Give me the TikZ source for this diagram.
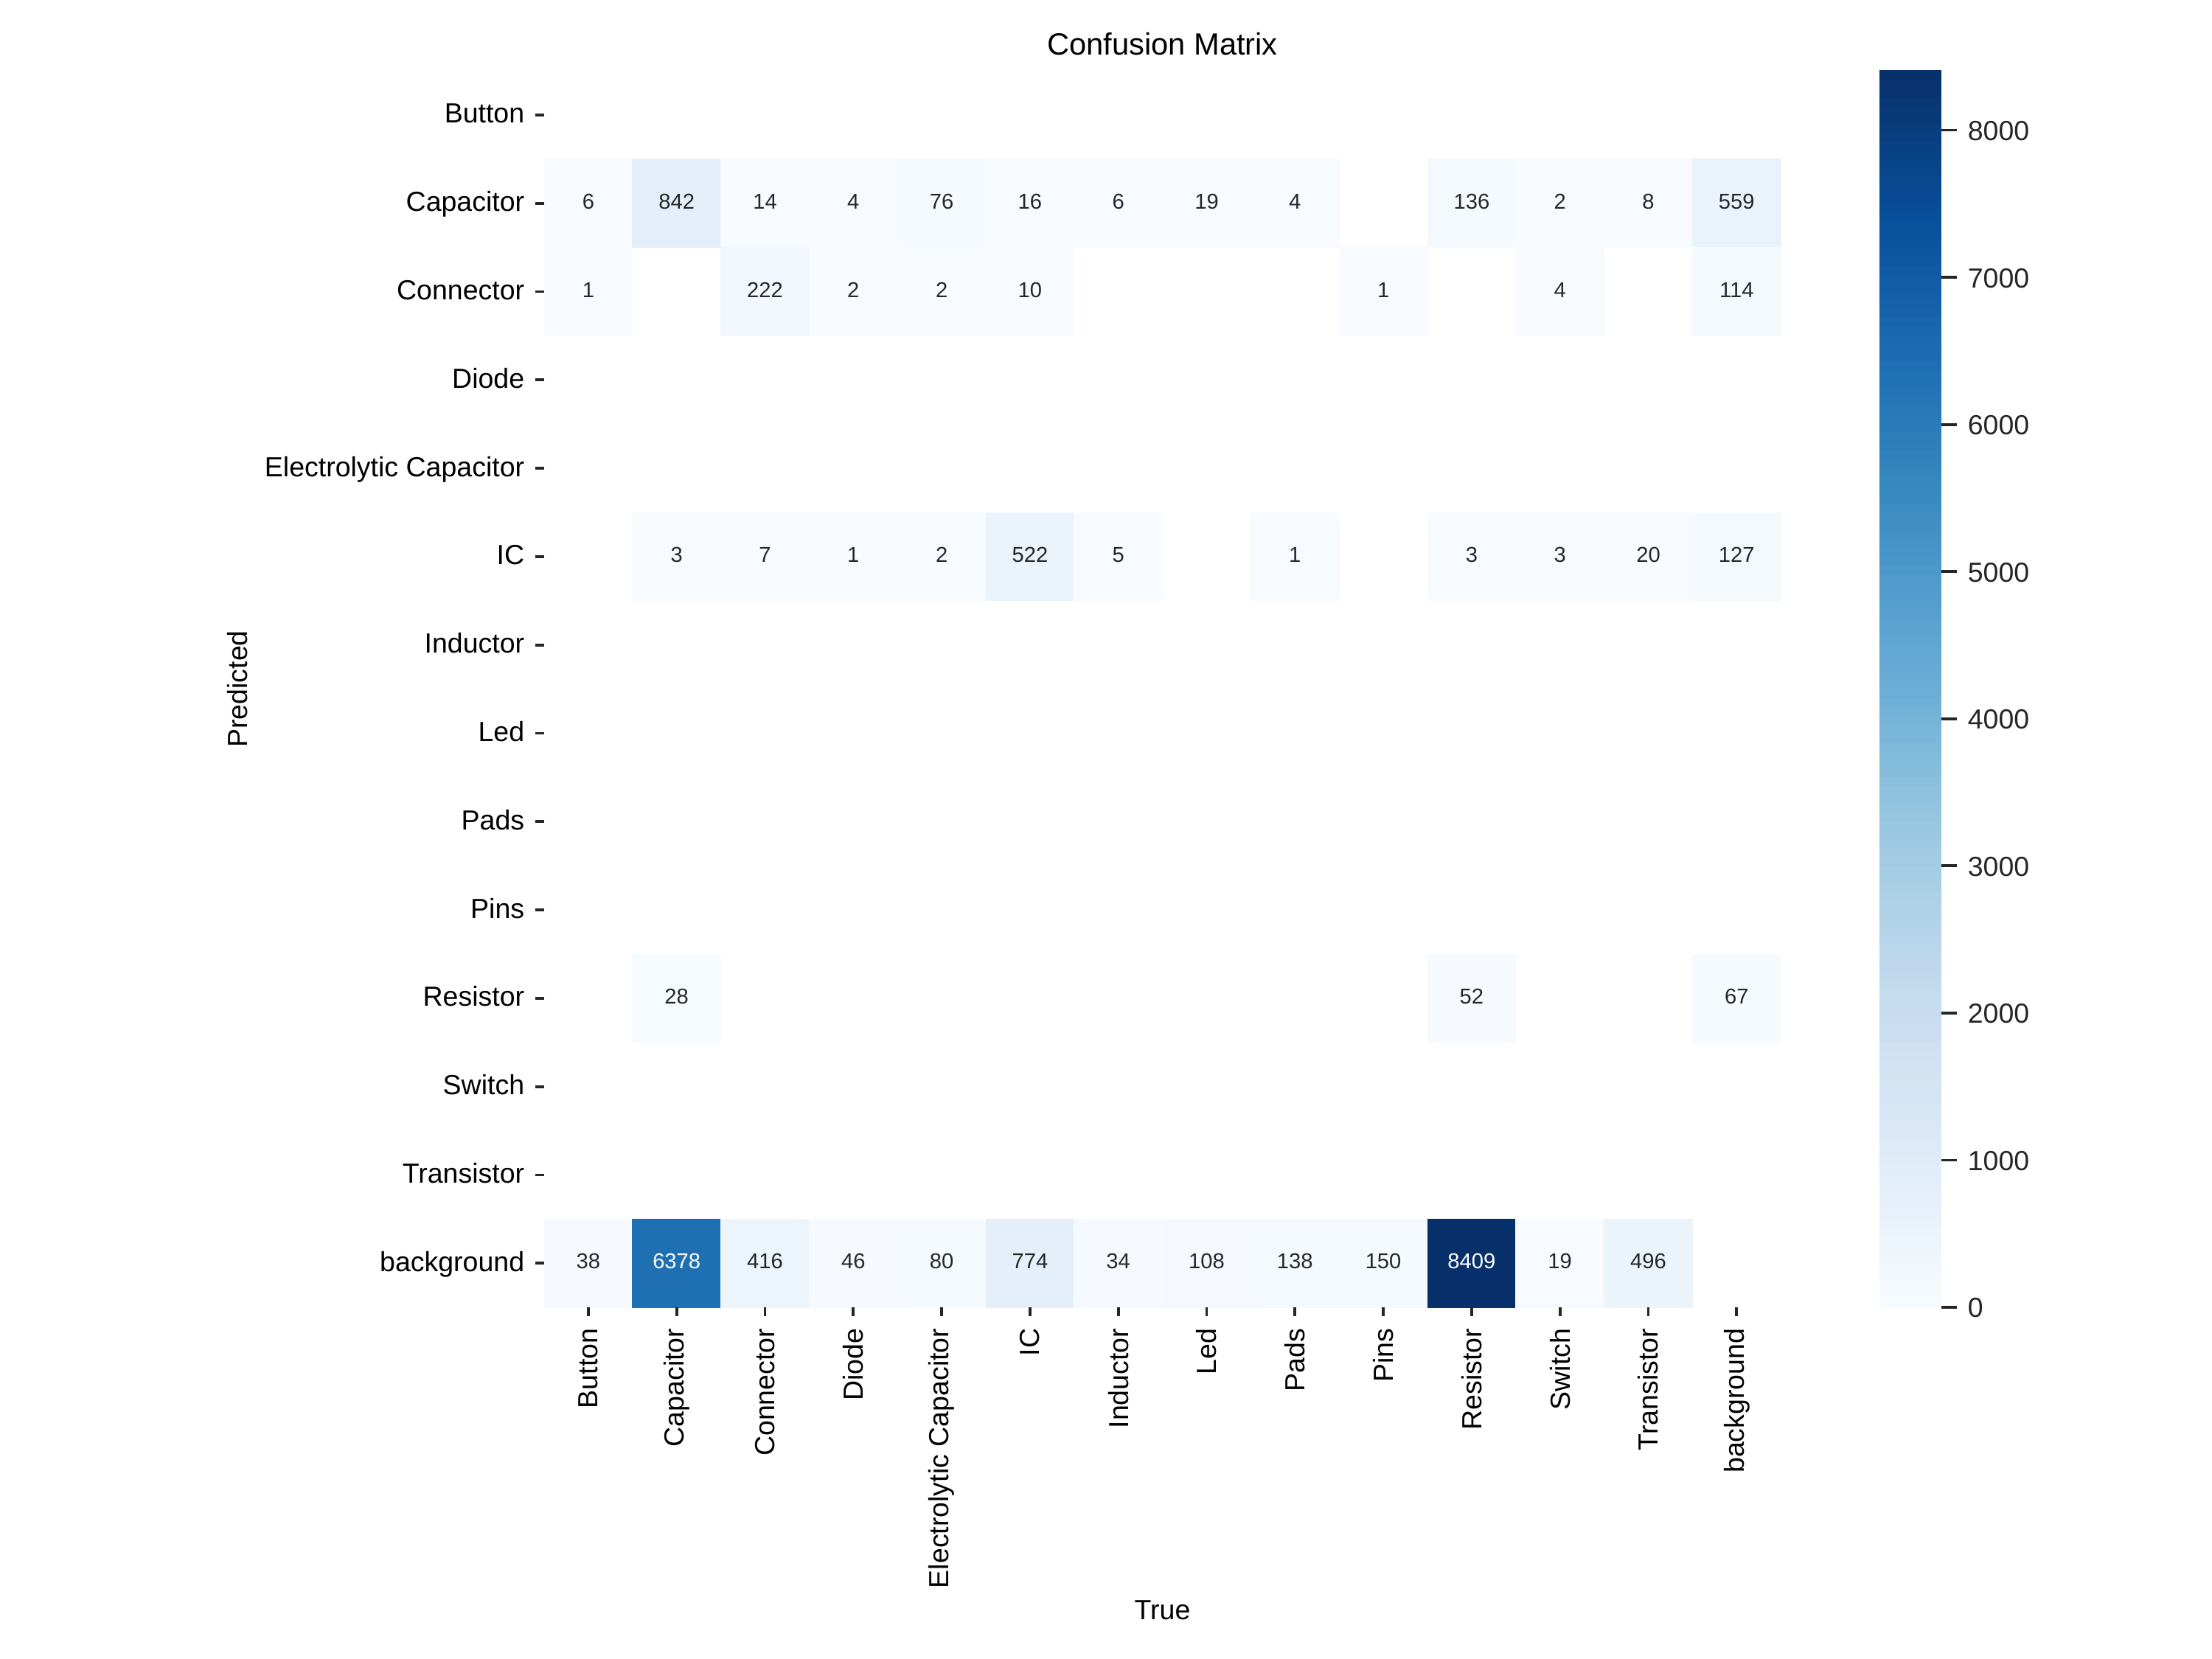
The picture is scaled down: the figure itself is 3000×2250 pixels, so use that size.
\documentclass[tikz,border=0pt]{standalone}
\usepackage{fontspec}
\setmainfont{Liberation Sans}
\definecolor{txt}{RGB}{38,38,38}
\newcommand\bluepoint[1]{%
  \ifcase#1 \def\pR{247}\def\pG{251}\def\pB{255}%
  \or \def\pR{222}\def\pG{235}\def\pB{247}%
  \or \def\pR{198}\def\pG{219}\def\pB{239}%
  \or \def\pR{158}\def\pG{202}\def\pB{225}%
  \or \def\pR{107}\def\pG{174}\def\pB{214}%
  \or \def\pR{66}\def\pG{146}\def\pB{198}%
  \or \def\pR{33}\def\pG{113}\def\pB{181}%
  \or \def\pR{8}\def\pG{81}\def\pB{156}%
  \else \def\pR{8}\def\pG{48}\def\pB{107}%
  \fi}
\newcommand\setblue[1]{%
  \pgfmathsetmacro\cmT{max(0,min(1,#1))*8}%
  \pgfmathtruncatemacro\cmS{min(floor(\cmT),7)}%
  \pgfmathsetmacro\cmF{\cmT-\cmS}%
  \pgfmathtruncatemacro\cmSn{\cmS+1}%
  \bluepoint{\cmS}\let\lR\pR\let\lG\pG\let\lB\pB
  \bluepoint{\cmSn}%
  \pgfmathsetmacro\cmR{(\lR*(1-\cmF)+\pR*\cmF)/255}%
  \pgfmathsetmacro\cmG{(\lG*(1-\cmF)+\pG*\cmF)/255}%
  \pgfmathsetmacro\cmB{(\lB*(1-\cmF)+\pB*\cmF)/255}%
  \definecolor{cellc}{rgb}{\cmR,\cmG,\cmB}%
}
\tikzset{
  ylab/.style={anchor=base east, inner sep=0pt, text=black, font=\fontsize{9}{11}\selectfont},
  xlab/.style={anchor=east, rotate=90, inner sep=0pt, text=black, font=\fontsize{9}{11}\selectfont},
  axlab/.style={inner sep=0pt, text=black, font=\fontsize{9}{11}\selectfont},
  titlelab/.style={anchor=base, inner sep=0pt, text=black, font=\fontsize{10}{12}\selectfont},
  cellnum/.style={inner sep=0pt, font=\fontsize{7}{8}\selectfont},
  cblab/.style={anchor=base west, inner sep=0pt, text=txt, font=\fontsize{9}{11}\selectfont},
  tickl/.style={line width=0.9pt, draw=txt},
}
\begin{document}
\begin{tikzpicture}[x=0.24pt,y=-0.24pt]
\useasboundingbox[fill=white] (0,0) rectangle (3000,2250);
% cells
\foreach \r/\c/\v in {
 1/0/6, 1/1/842, 1/2/14, 1/3/4, 1/4/76, 1/5/16, 1/6/6, 1/7/19, 1/8/4, 1/10/136, 1/11/2, 1/12/8, 1/13/559,
 2/0/1, 2/2/222, 2/3/2, 2/4/2, 2/5/10, 2/9/1, 2/11/4, 2/13/114,
 5/1/3, 5/2/7, 5/3/1, 5/4/2, 5/5/522, 5/6/5, 5/8/1, 5/10/3, 5/11/3, 5/12/20, 5/13/127,
 10/1/28, 10/10/52, 10/13/67,
 13/0/38, 13/1/6378, 13/2/416, 13/3/46, 13/4/80, 13/5/774, 13/6/34, 13/7/108, 13/8/138, 13/9/150, 13/10/8409, 13/11/19, 13/12/496}{
  \setblue{\v/8409}
  \fill[cellc] ({738+\c*119.8-0.4},{96+\r*119.8-0.4}) rectangle ({738+(\c+1)*119.8+0.4},{96+(\r+1)*119.8+0.4});
  \ifnum\v>4000 \def\tc{white}\else\def\tc{txt}\fi
  \node[cellnum, text=\tc] (v\r-\c) at ({738+(\c+0.5)*119.8},{96+(\r+0.5)*119.8-2.5}) {\v};
}
% labels and ticks
\foreach \n [count=\i from 0] in {Button,Capacitor,Connector,Diode,Electrolytic Capacitor,IC,Inductor,Led,Pads,Pins,Resistor,Switch,Transistor,background}{
  \coordinate (ya\i) at (726,{96+(\i+0.5)*119.8});
  \coordinate (yb\i) at (738,{96+(\i+0.5)*119.8});
  \draw[tickl] (ya\i) -- (yb\i);
  \node[ylab] (yl\i) at (712,{96+(\i+0.5)*119.8+11}) {\n};
  \coordinate (xa\i) at ({738+(\i+0.5)*119.8},1773);
  \coordinate (xb\i) at ({738+(\i+0.5)*119.8},1785);
  \draw[tickl] (xa\i) -- (xb\i);
  \node[xlab] (xl\i) at ({738+(\i+0.5)*119.8},1801) {\n};
}
\node[titlelab] (title) at (1576.5,75) {Confusion Matrix};
\node[axlab, anchor=base] (truelab) at (1576.5,2197) {True};
\node[axlab, anchor=base, rotate=90] (predlab) at (335,934.5) {Predicted};
% colorbar
\begin{scope}
\clip (2549,96) rectangle (2633,1773);
\foreach \k in {0,...,139}{
  \setblue{(\k+0.5)/140}
  \fill[cellc] (2549,{1773-(\k+1)*11.97857-0.8}) rectangle (2633,{1773-\k*11.97857});
}
\end{scope}
\foreach \tv [count=\j from 0] in {0,1000,2000,3000,4000,5000,6000,7000,8000}{
  \coordinate (ca\j) at (2633,{1773-\tv*0.19955});
  \coordinate (cb\j) at (2654,{1773-\tv*0.19955});
  \draw[tickl] (ca\j) -- (cb\j);
  \node[cblab] (cl\j) at (2668,{1773-\tv*0.19955+14}) {\tv};
}
\end{tikzpicture}
\end{document}
